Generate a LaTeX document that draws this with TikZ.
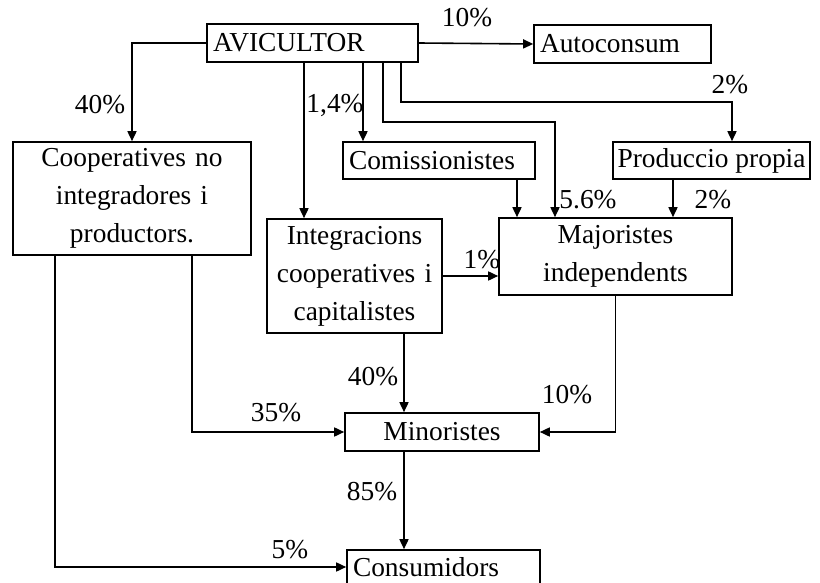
\documentclass[tikz,border=0pt]{standalone}
\usepackage{fontspec}
\setmainfont{Liberation Serif}
\usetikzlibrary{arrows.meta}

\begin{document}
\begin{tikzpicture}[x=0.5pt, y=-0.5pt,
	every node/.style={font=\fontsize{13.7}{19}\selectfont},
	box/.style={draw, line width=0.8pt, inner ysep=1pt, inner xsep=3pt},
	lbox/.style={box, align=left},
	cbox/.style={box, align=center},
	pct/.style={inner sep=0pt},
	arr/.style={line width=0.8pt, -{Triangle[length=5pt,width=4.5pt]}}]
	\useasboundingbox (0,0) rectangle (820,583);
	\clip (0,0) rectangle (820,583);
	% boxes
	\node[lbox, minimum width=105.5pt, minimum height=19pt, text width=99.5pt] (avicultor) at (312.5,43) {AVICULTOR};
	\node[lbox, minimum width=88.5pt, minimum height=19pt, text width=82.5pt] (autoconsum) at (622.5,44) {Autoconsum};
	\node[cbox, minimum width=119pt, minimum height=56.5pt, text width=113pt] (coop) at (132,198.5) {Cooperatives no\\integradores i\\productors.};
	\node[lbox, minimum width=96pt, minimum height=18.5pt, text width=90pt] (comis) at (439,160.5) {Comissionistes};
	\node[box, minimum width=98.5pt, minimum height=18.5pt, inner xsep=1pt] (prod) at (711.5,160.5) {Produccio propia};
	\node[cbox, minimum width=87.5pt, minimum height=57pt, text width=81.5pt] (integ) at (354.5,276) {Integracions\\cooperatives i\\capitalistes};
	\node[cbox, minimum width=116.5pt, minimum height=38.5pt, text width=110.5pt] (major) at (615.5,256.5) {Majoristes\\independents};
	\node[cbox, minimum width=97pt, minimum height=19pt, text width=91pt] (mino) at (442,432) {Minoristes};
	\node[lbox, minimum width=96.5pt, minimum height=17pt, text width=90.5pt] (cons) at (443.5,567) {Consumidors};
	% lanes and bends
	\coordinate (xa) at (304,0);
	\coordinate (xb) at (363,0);
	\coordinate (xc) at (383,0);
	\coordinate (xd) at (401,0);
	\coordinate (xe) at (517,0);
	\coordinate (xf) at (673,0);
	\coordinate (xg) at (404,0);
	\coordinate (xh) at (192,0);
	\coordinate (xi) at (55,0);
	\coordinate (bk) at (555,122);
	\coordinate (bp) at (732,102);
	% arrows
	\draw[arr] (avicultor.west) -| (coop.north);
	\draw[arr] (avicultor.east) -- (autoconsum.west);
	\draw[arr] (avicultor.south -| xa) -- (integ.north -| xa);
	\draw[arr] (avicultor.south -| xb) -- (comis.north -| xb);
	\draw[arr] (avicultor.south -| xc) |- (bk) -- (major.north -| bk);
	\draw[arr] (avicultor.south -| xd) |- (bp) -- (prod.north -| bp);
	\draw[arr] (comis.south -| xe) -- (major.north -| xe);
	\draw[arr] (prod.south -| xf) -- (major.north -| xf);
	\draw[arr] (integ.east) -- (integ.east -| major.west);
	\draw[arr] (integ.south -| xg) -- (mino.north -| xg);
	\draw[arr] (coop.south -| xh) |- (mino.west);
	\draw[arr] (coop.south -| xi) |- (cons.west);
	\draw[arr] (major.south) |- (mino.east);
	\draw[arr] (mino.south -| xg) -- (cons.north -| xg);
	% percentages
	\node[pct] (p10a) at (467,18) {10\%};
	\node[pct] (p40a) at (100,105) {40\%};
	\node[pct] (p14) at (335,105) {1,4\%};
	\node[pct] (p2a) at (730,85) {2\%};
	\node[pct] (p56) at (588,200) {5.6\%};
	\node[pct] (p2b) at (713,200) {2\%};
	\node[pct] (p1) at (482,260) {1\%};
	\node[pct] (p40b) at (373,377) {40\%};
	\node[pct] (p10b) at (567,395) {10\%};
	\node[pct] (p35) at (276,413) {35\%};
	\node[pct] (p85) at (372,492) {85\%};
	\node[pct] (p5) at (290,550) {5\%};
\end{tikzpicture}
\end{document}
